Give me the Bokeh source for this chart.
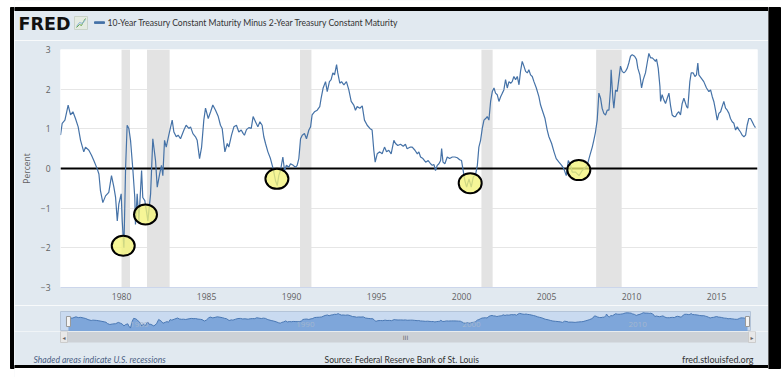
from bokeh.plotting import figure
from bokeh.models import Range1d, FixedTicker, BoxAnnotation, Span
from bokeh.layouts import column, row
from bokeh.embed import file_html
from bokeh.resources import INLINE
from bokeh.core.properties import value

# ---------------- data ----------------
years_a = [1976.41, 1976.51, 1976.67, 1976.86, 1977.00, 1977.14, 1977.29, 1977.45, 1977.59, 1977.78,
           1977.88, 1978.08, 1978.24, 1978.37, 1978.57, 1978.67, 1978.76, 1978.90, 1979.06, 1979.25,
           1979.41, 1979.55, 1979.65, 1979.75, 1979.84, 1979.98, 1980.04, 1980.14, 1980.24, 1980.33,
           1980.43, 1980.53, 1980.67, 1980.78, 1980.82, 1980.92, 1981.02, 1981.18, 1981.25, 1981.37,
           1981.55, 1981.71, 1981.84, 1982.00, 1982.10, 1982.24, 1982.35, 1982.43, 1982.53, 1982.63,
           1982.78, 1982.98, 1983.08, 1983.22, 1983.33, 1983.47, 1983.67, 1983.80, 1983.96, 1984.06,
           1984.20, 1984.35, 1984.45, 1984.59, 1984.71, 1984.84, 1984.94, 1985.10, 1985.24, 1985.37,
           1985.53, 1985.69, 1985.82, 1985.92, 1986.08, 1986.22, 1986.31, 1986.47]
values_a = [0.84, 1.14, 1.22, 1.60, 1.35, 1.43, 1.26, 1.05, 0.71, 0.42,
            0.54, 0.46, 0.33, 0.20, -0.01, -0.14, -0.56, -0.86, -0.69, -0.60,
            -0.18, -0.47, -0.73, -1.32, -0.90, -0.64, -1.32, -2.00, 0.03, 1.09,
            1.01, 0.71, -0.05, -0.73, -1.41, -0.64, -1.32, -0.05, -0.73, -0.81,
            -1.32, -0.64, 0.75, 0.20, -0.47, -0.14, 0.08, -0.18, 0.71, 0.54,
            0.84, 1.22, 0.92, 0.80, 0.84, 0.75, 0.97, 1.09, 1.01, 1.05,
            0.88, 0.80, 0.71, 0.25, 0.54, 1.22, 1.52, 1.26, 1.43, 1.60,
            1.47, 1.31, 1.09, 1.01, 0.42, 0.63, 0.54, 0.84]

years_b = [1986.61, 1986.76, 1986.90, 1987.04, 1987.16, 1987.23, 1987.35, 1987.49, 1987.63, 1987.74,
           1987.88, 1988.02, 1988.14, 1988.27, 1988.37, 1988.47, 1988.61, 1988.76, 1988.92, 1989.06,
           1989.16, 1989.25, 1989.35, 1989.49, 1989.59, 1989.70, 1989.84, 1989.94, 1990.10, 1990.23,
           1990.33, 1990.43, 1990.53, 1990.63, 1990.76, 1990.88, 1991.02, 1991.12, 1991.21, 1991.35,
           1991.51, 1991.66, 1991.74, 1991.86, 1992.00, 1992.10, 1992.23, 1992.33, 1992.43, 1992.53,
           1992.65, 1992.72, 1992.84, 1992.94, 1993.08, 1993.23, 1993.37, 1993.51, 1993.66, 1993.76,
           1993.86, 1994.02, 1994.16, 1994.29, 1994.45, 1994.61, 1994.74, 1994.84, 1994.92, 1995.04,
           1995.19, 1995.33, 1995.47, 1995.59, 1995.72, 1995.86, 1996.02, 1996.12, 1996.25, 1996.41,
           1996.57, 1996.70, 1996.80, 1996.99]
values_b = [1.05, 1.09, 0.92, 0.97, 0.88, 0.84, 0.98, 1.03, 1.01, 1.31,
            1.18, 1.05, 1.18, 1.09, 0.80, 0.63, 0.42, 0.25, -0.01, -0.31,
            -0.43, -0.18, -0.05, 0.29, -0.05, 0.08, 0.03, 0.12, 0.08, 0.03,
            0.08, 0.25, 0.75, 0.84, 0.88, 0.75, 0.97, 1.05, 1.35, 1.43,
            1.47, 1.56, 1.77, 2.03, 2.19, 1.94, 2.19, 2.24, 2.41, 2.36,
            2.62, 2.41, 2.15, 2.19, 2.11, 2.19, 1.98, 1.69, 1.60, 1.47,
            1.56, 1.52, 1.58, 1.22, 1.09, 1.01, 0.97, 0.46, 0.16, 0.37,
            0.42, 0.37, 0.54, 0.42, 0.46, 0.37, 0.71, 0.63, 0.58, 0.61,
            0.56, 0.61, 0.50, 0.54]

years_c = [1997.10, 1997.26, 1997.40, 1997.49, 1997.59, 1997.73, 1997.89, 1998.04, 1998.18, 1998.28,
           1998.38, 1998.47, 1998.57, 1998.67, 1998.77, 1998.83, 1998.91, 1999.02, 1999.16, 1999.30,
           1999.46, 1999.61, 1999.75, 1999.89, 2000.00, 2000.08, 2000.20, 2000.30, 2000.44, 2000.57,
           2000.69, 2000.83, 2000.93, 2001.02, 2001.12, 2001.22, 2001.32, 2001.42, 2001.51, 2001.61,
           2001.71, 2001.81, 2001.91, 2002.00, 2002.10, 2002.20, 2002.30, 2002.40, 2002.49, 2002.59,
           2002.69, 2002.79, 2002.89, 2002.98, 2003.08, 2003.18, 2003.28, 2003.38, 2003.47, 2003.57,
           2003.67, 2003.77, 2003.87, 2003.96, 2004.06, 2004.16, 2004.26, 2004.40, 2004.55, 2004.65,
           2004.75, 2004.91, 2005.04, 2005.14, 2005.30, 2005.44, 2005.57, 2005.73, 2005.89, 2006.02,
           2006.16, 2006.28, 2006.42, 2006.51, 2006.71, 2006.91, 2007.10, 2007.30]
values_c = [0.54, 0.46, 0.37, 0.42, 0.29, 0.25, 0.16, 0.20, 0.12, 0.08,
            0.10, -0.05, 0.08, 0.12, 0.20, 0.50, 0.16, 0.12, 0.29, 0.25,
            0.29, 0.29, 0.27, 0.22, 0.20, -0.01, -0.31, -0.47, -0.26, -0.47,
            -0.22, -0.14, 0.08, 0.54, 0.71, 1.01, 1.22, 1.26, 1.31, 1.22,
            1.69, 1.94, 2.03, 1.90, 1.86, 1.69, 1.81, 1.90, 1.98, 2.24,
            2.03, 2.19, 2.15, 2.19, 2.32, 2.24, 2.32, 2.11, 2.45, 2.70,
            2.58, 2.45, 2.41, 2.49, 2.36, 2.32, 2.19, 2.03, 1.81, 1.60,
            1.47, 1.26, 0.97, 0.80, 0.63, 0.42, 0.25, 0.16, 0.08, -0.01,
            -0.18, 0.20, 0.08, -0.09, -0.09, -0.18, -0.05, 0.03]

years_d = [2007.39, 2007.55, 2007.69, 2007.78, 2007.88, 2007.98, 2008.08, 2008.18, 2008.27, 2008.37,
           2008.47, 2008.57, 2008.67, 2008.76, 2008.80, 2008.90, 2008.96, 2009.06, 2009.16, 2009.25,
           2009.35, 2009.45, 2009.55, 2009.65, 2009.75, 2009.84, 2009.94, 2010.04, 2010.18, 2010.29,
           2010.37, 2010.49, 2010.59, 2010.69, 2010.82, 2010.92, 2011.02, 2011.12, 2011.22, 2011.31,
           2011.41, 2011.47, 2011.57, 2011.67, 2011.71, 2011.80, 2011.90, 2012.00, 2012.10, 2012.20,
           2012.29, 2012.39, 2012.49, 2012.59, 2012.69, 2012.78, 2012.88, 2012.98, 2013.08, 2013.24,
           2013.31, 2013.43, 2013.51, 2013.63, 2013.73, 2013.82, 2013.90, 2013.96, 2014.10, 2014.25,
           2014.41, 2014.55, 2014.65, 2014.75, 2014.84, 2014.94, 2015.04, 2015.14, 2015.24, 2015.33,
           2015.43, 2015.53, 2015.63, 2015.73, 2015.82, 2015.92, 2016.02, 2016.12, 2016.22, 2016.31,
           2016.41, 2016.51, 2016.61, 2016.71, 2016.80, 2016.90, 2017.00, 2017.10, 2017.20, 2017.29]
values_d = [0.08, 0.33, 0.54, 0.71, 0.92, 1.22, 1.90, 1.77, 1.52, 1.39,
            1.35, 1.47, 1.47, 1.98, 2.49, 1.77, 1.52, 1.98, 1.94, 2.24,
            2.58, 2.45, 2.41, 2.45, 2.53, 2.66, 2.83, 2.87, 2.83, 2.75,
            2.53, 2.36, 2.03, 2.24, 2.41, 2.66, 2.90, 2.79, 2.79, 2.75,
            2.70, 2.76, 2.53, 2.07, 1.69, 1.86, 1.73, 1.64, 1.77, 1.90,
            1.60, 1.35, 1.31, 1.31, 1.39, 1.43, 1.35, 1.64, 1.77, 1.56,
            1.52, 2.19, 2.41, 2.41, 2.32, 2.36, 2.66, 2.36, 2.28, 2.19,
            2.03, 1.94, 1.98, 1.81, 1.69, 1.47, 1.22, 1.39, 1.43, 1.56,
            1.69, 1.52, 1.47, 1.39, 1.26, 1.18, 1.14, 0.97, 1.05, 0.98,
            0.92, 0.84, 0.80, 0.84, 1.09, 1.26, 1.26, 1.18, 1.09, 1.03]

spread_years = years_a + years_b + years_c + years_d
spread_values = values_a + values_b + values_c + values_d

recession_starts = [1980.00, 1981.50, 1990.50, 2001.17, 2007.92]
recession_ends = [1980.50, 1982.83, 1991.17, 2001.83, 2009.42]

circle_years = [1980.10, 1981.41, 1989.14, 2000.51, 2006.90]
circle_values = [-1.95, -1.16, -0.26, -0.37, -0.04]

x_ticks = [1980, 1985, 1990, 1995, 2000, 2005, 2010, 2015]
y_ticks = [-3, -2, -1, 0, 1, 2, 3]
nav_ticks = [1980, 1990, 2000, 2010]

logo_text = "FRED"
title_text = "10-Year Treasury Constant Maturity Minus 2-Year Treasury Constant Maturity"
y_label = "Percent"
note_text = "Shaded areas indicate U.S. recessions"
source_text = "Source: Federal Reserve Bank of St. Louis"
site_text = "fred.stlouisfed.org"

# ---------------- styling / layout constants ----------------
PANEL = "#e1e9f0"
LINE = "#4572a7"
FONT = "Open Sans"
SMALL = "Lato"
W_TOTAL, H_TOTAL = 784, 377
X0, X1 = 14, 768          # centre column (page px)
H_HEAD, H_MAIN, H_NAV = 40, 265, 26
H_FOOT = H_TOTAL - H_HEAD - H_MAIN - H_NAV
BLACK_TOP, BLACK_BOT = 7, 368
RIGHT_BLACK_END = 780


def blank(width, height, xr, yr, bg):
    f = figure(width=width, height=height, x_range=Range1d(*xr), y_range=Range1d(*yr),
               output_backend="svg", toolbar_location=None, min_border=0)
    f.axis.visible = False
    f.grid.visible = False
    f.outline_line_color = None
    f.background_fill_color = bg
    f.border_fill_color = bg
    return f


# ---------------- left / right frame strips ----------------
left = blank(X0, H_TOTAL, (0, X0), (H_TOTAL, 0), "white")
left.quad(left=[10], right=[X0], top=[BLACK_TOP], bottom=[BLACK_BOT], color="black")

right = blank(W_TOTAL - X1, H_TOTAL, (X1, W_TOTAL), (H_TOTAL, 0), "white")
right.quad(left=[X1], right=[RIGHT_BLACK_END], top=[BLACK_TOP], bottom=[BLACK_BOT], color="black")

# ---------------- header ----------------
head = blank(X1 - X0, H_HEAD, (X0, X1), (H_HEAD, 0), PANEL)
head.quad(left=[X0], right=[X1], top=[0], bottom=[BLACK_TOP], color="white")
head.quad(left=[X0], right=[X1], top=[BLACK_TOP], bottom=[10], color="black")
head.text(x=[18], y=[23.5], text=[logo_text], text_font=value("DejaVu Sans"), text_font_style="bold",
          text_font_size="17.5px", text_color="#111111", text_baseline="middle")
head.quad(left=[74], right=[87], top=[16], bottom=[29], fill_color="#e4ebe2", line_color="#c9d3c9")
head.line(x=[76, 79, 81, 83, 85], y=[27, 24, 25, 21, 18], line_color="#6aa84f", line_width=1)
head.line(x=[76, 79, 82, 85], y=[26, 22, 23, 19], line_color="#8ab4d8", line_width=1)
head.quad(left=[94], right=[104], top=[21.3], bottom=[22.9], color=LINE)
head.text(x=[107], y=[22.5], text=[title_text], text_font=value(SMALL), text_font_size="8.6px",
          text_color="#333333", text_baseline="middle")

# ---------------- main chart ----------------
p = figure(width=X1 - X0, height=H_MAIN, x_range=Range1d(1976.41, 2017.41), y_range=Range1d(-3, 3),
           output_backend="svg", toolbar_location=None,
           min_border_left=60 - X0, min_border_right=X1 - 757, min_border_top=49 - H_HEAD,
           min_border_bottom=(H_HEAD + H_MAIN) - 287)
p.background_fill_color = "white"
p.border_fill_color = PANEL
p.outline_line_color = None

p.xaxis.ticker = FixedTicker(ticks=x_ticks)
p.yaxis.ticker = FixedTicker(ticks=y_ticks)
p.xgrid.grid_line_color = None
p.ygrid.grid_line_color = "#e6e6e6"
p.ygrid.grid_line_width = 1

for ax in (p.xaxis, p.yaxis):
    ax.major_tick_out = 0
    ax.major_tick_in = 0
    ax.minor_tick_line_color = None
    ax.major_label_text_font = FONT
    ax.major_label_text_font_size = "8.5px"
    ax.major_label_text_color = "#606060"
p.xaxis.axis_line_color = "#ccd6eb"
p.xaxis.major_label_standoff = 5
p.yaxis.axis_line_color = None
p.yaxis.major_label_standoff = 10
p.yaxis.axis_label = y_label
p.yaxis.axis_label_standoff = 6
p.yaxis.axis_label_text_font = FONT
p.yaxis.axis_label_text_font_size = "8.5px"
p.yaxis.axis_label_text_font_style = "normal"
p.yaxis.axis_label_text_color = "#606060"

for s, e in zip(recession_starts, recession_ends):
    p.add_layout(BoxAnnotation(left=s, right=e, fill_color="#e3e3e3", fill_alpha=1.0,
                               line_color=None, level="underlay"))

p.add_layout(Span(location=0, dimension="width", line_color="black", line_width=2, level="underlay"))

p.line(spread_years, spread_values, line_color=LINE, line_width=1.2)

p.ellipse(x=circle_years, y=circle_values, width=23, height=20,
          width_units="screen", height_units="screen",
          fill_color="#f3f37a", fill_alpha=0.78, line_color="black", line_width=2)

# ---------------- navigator ----------------
NAV_Y_MIN = -3.1
nav = figure(width=X1 - X0, height=H_NAV, x_range=Range1d(1975.93, 2017.47), y_range=Range1d(NAV_Y_MIN, 3.3),
             output_backend="svg", toolbar_location=None,
             min_border_left=60 - X0, min_border_right=X1 - 750, min_border_top=6, min_border_bottom=0)
nav.axis.visible = False
nav.grid.visible = False
nav.background_fill_color = "#c9daf0"
nav.border_fill_color = PANEL
nav.outline_line_color = "#b4c4d8"
nav.varea(x=spread_years, y1=NAV_Y_MIN, y2=spread_values, fill_color="#7ea6da", fill_alpha=1.0)
nav.line(spread_years, spread_values, line_color="#4a78b4", line_width=1)
nav.text(x=nav_ticks, y=[-1.0] * len(nav_ticks), text=[str(t) for t in nav_ticks], x_offset=2,
         text_font=value(FONT), text_font_size="8px", text_color="#a3b6cf", text_baseline="middle")
nav.rect(x=[spread_years[0], spread_years[-1]], y=[0.1, 0.1], width=4, height=10,
         width_units="screen", height_units="screen", fill_color="#f4f4f4", line_color="#999999")

# ---------------- footer (scrollbar + credits) ----------------
Y_F0 = H_HEAD + H_MAIN + H_NAV
foot = blank(X1 - X0, H_FOOT, (X0, X1), (H_TOTAL, Y_F0), PANEL)
foot.quad(left=[60], right=[755], top=[331], bottom=[342], fill_color="#cdd1d6", line_color=None)
foot.quad(left=[60, 748], right=[67, 755], top=[331, 331], bottom=[342, 342],
          fill_color="#e8e8e8", line_color="#cccccc")
foot.text(x=[63.5, 751.5, 405], y=[336.5, 336.5, 336.5], text=["\u25c2", "\u25b8", "III"],
          text_font=value("DejaVu Sans"), text_font_size="6px", text_color="#666666",
          text_align="center", text_baseline="middle")
foot.text(x=[33], y=[359], text=[note_text], text_font=value(SMALL), text_font_style="italic",
          text_font_size="8.6px", text_color="#4b5f84", text_baseline="middle")
foot.text(x=[324], y=[359], text=[source_text], text_font=value(SMALL),
          text_font_size="8.6px", text_color="#333333", text_baseline="middle")
foot.text(x=[753], y=[359], text=[site_text], text_font=value(SMALL), text_align="right",
          text_font_size="9px", text_color="#333333", text_baseline="middle")
foot.quad(left=[X0], right=[X1], top=[365], bottom=[BLACK_BOT], color="black")
foot.quad(left=[X0], right=[X1], top=[BLACK_BOT], bottom=[H_TOTAL], color="white")

centre = column(row(head, spacing=0), row(p, spacing=0), row(nav, spacing=0), row(foot, spacing=0),
                spacing=0)
layout = row(left, centre, right, spacing=0)
open("out.html", "w").write(file_html(layout, INLINE))
